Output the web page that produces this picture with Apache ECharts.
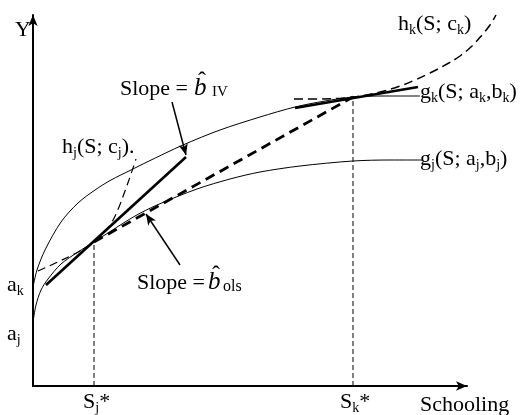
<!DOCTYPE html>
<html><head><meta charset="utf-8">
<script src="https://cdn.jsdelivr.net/npm/echarts@6/dist/echarts.min.js"></script>
<style>html,body{margin:0;padding:0;background:#fff}#c{width:520px;height:415px}</style>
</head><body><div id="c"></div>
<script>
// Schooling (x) / Y values
const gkS = [0,4,12,28,45,62,78,98,114,150,187,227,262,292,320,352,387];
const gkY = [99,116,136,164,183,196,206,216,224,241,256,269,279,285,289,290,290];
const gjS = [0,3,8,15,28,45,61,78,102,124,164,197,227,267,320,357,390];
const gjY = [64,81,96,107,122,134,144,155,170,181,197,207,214,220,225,226,226];
const hjS = [5,27,47,61,71,79,86,92,97,103];
const hjY = [115,125,135,144,153,164,179,195,209,227];
const hkS = [261,287,320,347,367,382,397,414,427,439,449,457,463];
const hkY = [287,287,289,294,300,306,313,322,330,340,351,361,371];
const ivS = [13,153];
const ivY = [101,229];
const olsS = [61,320];
const olsY = [144,289];
const tkS = [262,385];
const tkY = [278,299];
const sjStar = 61, skStar = 320;
const ivArrowS = [139,153], ivArrowY = [284,231];
const olsArrowS = [147,113], olsArrowY = [121,172];

const zip = (a,b) => a.map((v,i)=>[v,b[i]]);
const FF = '"Liberation Serif","Times New Roman",serif';
const chart = echarts.init(document.getElementById('c'));

function line(data, width, type, smooth, gi) {
  return {type:'line', data, smooth: smooth||false, symbol:'none', clip:false, silent:true,
    xAxisIndex: gi||0, yAxisIndex: gi||0,
    lineStyle:{color:'#000', width, type: type||'solid', cap:'butt'}};
}
const sub = {fontSize:14, fontFamily:FF, fill:'#000', verticalAlign:'bottom', lineHeight:16};
function txt(x, y, text, fs, italic) {
  return {type:'text', x, y, silent:true, style:{text, fontSize: fs||22, fontFamily:FF, fill:'#000',
    fontStyle: italic ? 'italic' : 'normal', verticalAlign:'middle', lineHeight:26, rich:{s:sub}}};
}
const hidden = {show:false};

chart.setOption({
  animation:false,
  backgroundColor:'#fff',
  grid:[{left:33, right:53, top:15, bottom:29},{left:33, right:17, top:15, bottom:29}],
  xAxis:[{type:'value', min:0, max:434, splitLine:hidden, axisTick:hidden, axisLabel:hidden,
    axisLine:{onZero:false, symbol:['none','arrow'], symbolSize:[7,11], lineStyle:{color:'#000', width:2}}},
    {type:'value', gridIndex:1, min:0, max:470, show:false}],
  yAxis:[{type:'value', min:0, max:371, splitLine:hidden, axisTick:hidden, axisLabel:hidden,
    axisLine:{onZero:false, symbol:['none','arrow'], symbolSize:[7,11], lineStyle:{color:'#000', width:2}}},
    {type:'value', gridIndex:1, min:0, max:371, show:false}],
  series:[
    line(zip(gkS,gkY), 1, 'solid', 0.3),
    line(zip(gjS,gjY), 1, 'solid', 0.3),
    line(zip(hjS,hjY), 1.2, [8,5], 0.4),
    line(zip(hkS,hkY), 1.5, [9,5], 0.4, 1),
    line(zip(ivS,ivY), 2.6),
    line(zip(olsS,olsY), 2.8, [10,6]),
    line(zip(tkS,tkY), 2.6),
    line([[sjStar,0],[sjStar,olsY[0]]], 1, [5,3]),
    line([[skStar,0],[skStar,olsY[1]]], 1, [5,3]),
    {type:'line', data:[], silent:true, markLine:{silent:true, symbol:['none','arrow'], symbolSize:[7,11], label:{show:false},
      lineStyle:{color:'#000', width:1.5, type:'solid'},
      data:[
        [{coord:[ivArrowS[0],ivArrowY[0]]},{coord:[ivArrowS[1],ivArrowY[1]]}],
        [{coord:[olsArrowS[0],olsArrowY[0]]},{coord:[olsArrowS[1],olsArrowY[1]]}]
      ]}}
  ],
  graphic:[
    txt(15,30.5,'Y'),
    txt(120,89.5,'Slope ='),
    txt(194,88.5,'b',25,true),
    txt(198,82,'\u02C6',24),
    txt(212,92,'IV',15),
    txt(62,147.5,'h{s|j}(S; c{s|j}).'),
    txt(398,24.5,'h{s|k}(S; c{s|k})'),
    txt(420,92.5,'g{s|k}(S; a{s|k},b{s|k})'),
    txt(420,159.5,'g{s|j}(S; a{s|j},b{s|j})'),
    txt(137,283.5,'Slope ='),
    txt(208,282.5,'b',25,true),
    txt(212,276,'\u02C6',24),
    txt(223,287,'ols',16),
    txt(7,285.5,'a{s|k}'),
    txt(7,334.5,'a{s|j}'),
    txt(83,402.5,'S{s|j}*'),
    txt(340,402.5,'S{s|k}*'),
    txt(420,405.5,'Schooling')
  ]
});
</script></body></html>
